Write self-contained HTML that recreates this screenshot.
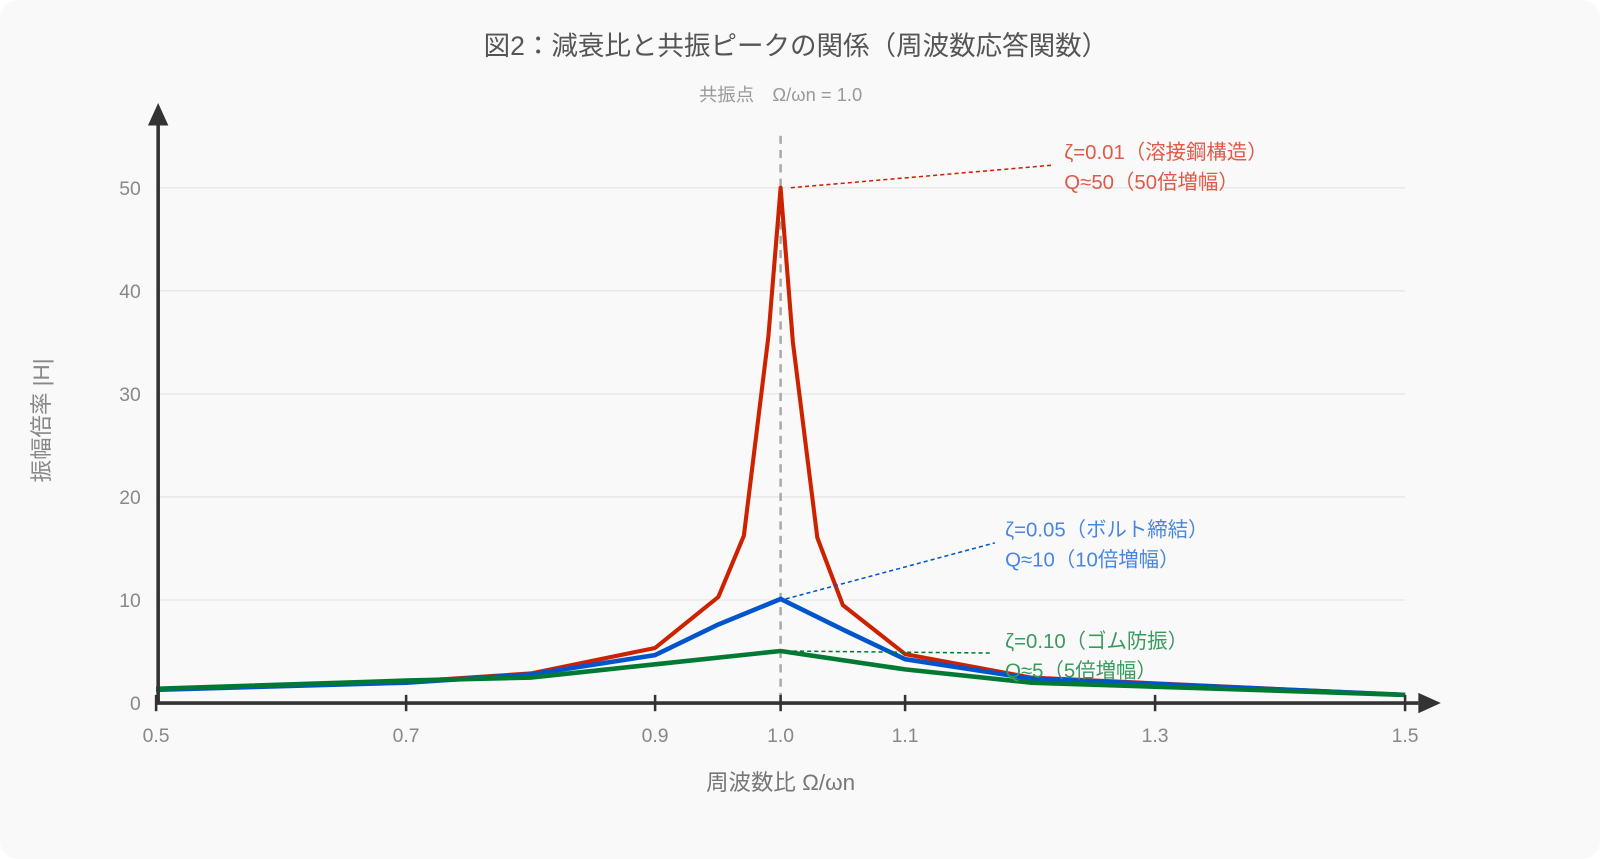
<!DOCTYPE html>
<html><head><meta charset="utf-8"><style>
html,body{margin:0;padding:0;background:#fff;}
svg{display:block;}
text{font-family:"Liberation Sans","Noto Sans CJK JP",sans-serif;}
</style></head><body>
<svg width="1600" height="859" viewBox="0 0 1600 859" xmlns="http://www.w3.org/2000/svg">
<rect x="0" y="0" width="1600" height="859" rx="18" fill="#f9f9f9"/>
<g transform="scale(1.0204)">
<text x="780" y="54" text-anchor="middle" font-size="26" fill="#555">図2：減衰比と共振ピークの関係（周波数応答関数）</text>
<text x="765" y="99" text-anchor="middle" font-size="18" fill="#999">共振点　Ω/ωn = 1.0</text>
<g stroke="#e9e9e9" stroke-width="1.5">
<line x1="153" y1="184" x2="1377" y2="184"/><line x1="153" y1="285" x2="1377" y2="285"/>
<line x1="153" y1="386" x2="1377" y2="386"/><line x1="153" y1="487" x2="1377" y2="487"/>
<line x1="153" y1="588" x2="1377" y2="588"/>
</g>
<g font-size="19" fill="#888" text-anchor="end">
<text x="138" y="191">50</text><text x="138" y="292">40</text><text x="138" y="393">30</text>
<text x="138" y="494">20</text><text x="138" y="595">10</text><text x="138" y="696">0</text>
</g>
<g font-size="19" fill="#888" text-anchor="middle">
<text x="153" y="727">0.5</text><text x="398" y="727">0.7</text><text x="642" y="727">0.9</text>
<text x="765" y="727">1.0</text><text x="887" y="727">1.1</text><text x="1132" y="727">1.3</text><text x="1377" y="727">1.5</text>
</g>
<text x="765" y="774" text-anchor="middle" font-size="22" fill="#777">周波数比 Ω/ωn</text>
<text transform="translate(48,412) rotate(-90)" text-anchor="middle" font-size="22" fill="#888">振幅倍率 |H|</text>
<line x1="765" y1="133" x2="765" y2="689" stroke="#aaa" stroke-width="2.5" stroke-dasharray="8,6"/>
<polyline fill="none" stroke="#cc2200" stroke-width="4" stroke-linejoin="round" points="153,675 398,668 520,660 642,635 704,585 729,525 753,330 765,184 777,335 801,527 826,593 887,641 1010,664 1377,681"/>
<polyline fill="none" stroke="#0055cc" stroke-width="4.5" stroke-linejoin="round" points="153,676 398,669 520,661 642,642 704,612 765,587 826,617 887,646 1010,665 1377,681"/>
<polyline fill="none" stroke="#007a33" stroke-width="4.5" stroke-linejoin="round" points="153,675 398,667 520,664 642,651 765,638 887,656 1010,669 1377,681"/>
<line x1="775" y1="184" x2="1030" y2="162" stroke="#cc2200" stroke-width="1.5" stroke-dasharray="4,3"/>
<line x1="770" y1="587" x2="975" y2="532" stroke="#0055cc" stroke-width="1.5" stroke-dasharray="4,3"/>
<line x1="770" y1="638" x2="972" y2="640" stroke="#007a33" stroke-width="1.5" stroke-dasharray="4,3"/>
<g font-size="20">
<text x="1043" y="156" fill="#e05a47">ζ=0.01（溶接鋼構造）</text>
<text x="1043" y="185" fill="#e05a47">Q≈50（50倍増幅）</text>
<text x="985" y="526" fill="#4a86e0">ζ=0.05（ボルト締結）</text>
<text x="985" y="555" fill="#4a86e0">Q≈10（10倍増幅）</text>
<text x="985" y="635" fill="#3a9a5e">ζ=0.10（ゴム防振）</text>
<text x="985" y="664" fill="#3a9a5e">Q≈5（5倍増幅）</text>
</g>
<line x1="155" y1="690" x2="155" y2="122" stroke="#333" stroke-width="3.5"/>
<polygon points="155,101 145,123 165,123" fill="#333"/>
<line x1="153" y1="689" x2="1390" y2="689" stroke="#333" stroke-width="3.5"/>
<polygon points="1412,689 1390,679 1390,699" fill="#333"/>
<g stroke="#333" stroke-width="2.5">
<line x1="153" y1="681" x2="153" y2="697"/><line x1="398" y1="681" x2="398" y2="697"/>
<line x1="642" y1="681" x2="642" y2="697"/><line x1="765" y1="681" x2="765" y2="697"/>
<line x1="887" y1="681" x2="887" y2="697"/><line x1="1132" y1="681" x2="1132" y2="697"/>
<line x1="1377" y1="681" x2="1377" y2="697"/>
</g>
</g>
</svg>
</body></html>
